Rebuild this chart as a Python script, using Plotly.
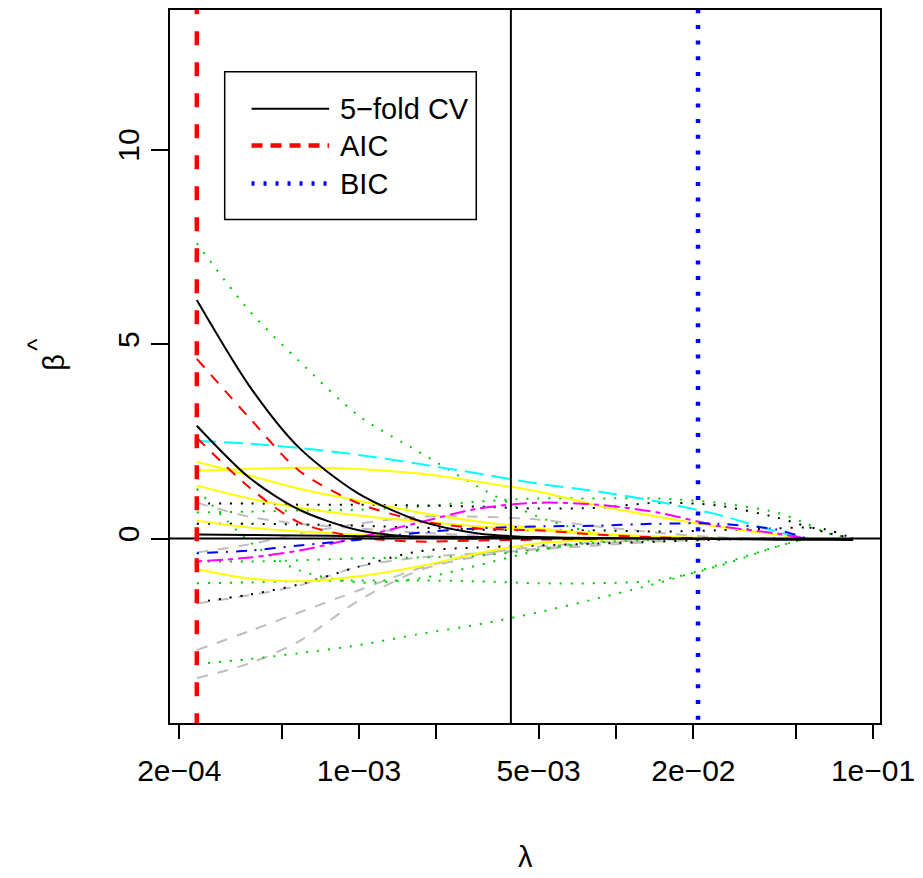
import plotly.graph_objects as go

# ---------------- data ----------------
lam = [0.000234, 0.000375, 0.000586, 0.001, 0.00171, 0.00291, 0.00497,
       0.00848, 0.0145, 0.0247, 0.0421, 0.0551, 0.0658, 0.0837]
N = None
bs1 = [6.13, 3.92, 2.33, 1.15, 0.46, 0.13, 0.03, 0.0, N, N, N, N, N, N]
bs2 = [2.90, 1.56, 0.74, 0.21, 0.03, 0.0, N, N, N, N, N, N, N, N]
bs3 = [0.10, 0.09, 0.08, 0.06, 0.05, 0.04, 0.03, 0.01, 0.0, -0.01, -0.03, -0.03, -0.03, -0.04]
rd1 = [4.62, 3.10, 1.74, 0.90, 0.46, 0.26, 0.21, 0.10, 0.03, 0.0, N, N, N, N]
rd2 = [2.59, 1.31, 0.41, 0.03, -0.08, -0.05, -0.03, 0.0, N, N, N, N, N, N]
gr1 = [7.59, 5.85, 4.56, 3.15, 2.23, 1.33, 0.56, 0.13, 0.0, N, N, N, N, N]
cy1 = [2.51, 2.44, 2.33, 2.15, 1.92, 1.67, 1.41, 1.21, 0.95, 0.62, 0.18, 0.0, N, N]
ye1 = [1.74, 1.79, 1.82, 1.79, 1.67, 1.46, 1.21, 0.85, 0.56, 0.31, 0.10, 0.0, N, N]
ye2 = [1.97, 1.62, 1.28, 0.97, 0.67, 0.44, 0.26, 0.13, 0.05, 0.0, N, N, N, N]
ye3 = [1.36, 1.03, 0.79, 0.59, 0.44, 0.31, 0.21, 0.10, 0.03, 0.0, N, N, N, N]
ye4 = [0.46, 0.28, 0.18, 0.10, 0.05, 0.03, 0.0, N, N, N, N, N, N, N]
ye5 = [-0.79, -1.03, -1.10, -0.97, -0.72, -0.38, -0.13, -0.03, 0.0, N, N, N, N, N]
gy1 = [-3.59, -3.21, -2.64, -1.59, -0.82, -0.46, -0.26, -0.13, -0.05, 0.0, N, N, N, N]
gy2 = [-2.87, -2.38, -1.90, -1.33, -0.77, -0.41, -0.21, -0.10, -0.03, 0.0, N, N, N, N]
gy3 = [-1.67, -1.46, -1.21, -0.72, -0.49, -0.38, -0.28, -0.18, -0.08, -0.03, 0.0, N, N, N]
gy4 = [-0.36, -0.15, 0.13, 0.38, 0.56, 0.56, 0.49, 0.31, 0.15, 0.03, 0.0, N, N, N]
gy5 = [0.92, 0.56, 0.38, 0.26, 0.15, 0.08, 0.03, 0.0, N, N, N, N, N, N]
bd1 = [-1.64, -1.44, -1.18, -0.72, -0.33, -0.23, -0.18, -0.13, -0.08, -0.03, 0.0, N, N, N]
bd2 = [0.90, 0.90, 0.87, 0.87, 0.85, 0.82, 0.77, 0.79, 0.92, 0.85, 0.54, 0.31, 0.15, 0.0]
bd3 = [0.38, 0.38, 0.36, 0.33, 0.28, 0.23, 0.21, 0.21, 0.18, 0.21, 0.26, 0.28, 0.23, 0.0]
gr2 = [-1.15, -1.13, -1.10, -1.08, -1.08, -1.10, -1.15, -1.15, -1.08, -0.72, -0.21, 0.0, N, N]
gr3 = [-3.23, -3.10, -2.95, -2.74, -2.46, -2.21, -1.90, -1.54, -1.15, -0.69, -0.21, 0.0, N, N]
gr4 = [-0.59, -0.59, -0.56, -0.51, -0.49, -0.44, -0.28, -0.10, -0.03, 0.0, N, N, N, N]
gr5 = [1.28, -0.08, -0.82, -1.13, -1.03, -0.69, -0.31, -0.05, 0.0, N, N, N, N, N]
gr6 = [0.67, 0.69, 0.72, 0.74, 0.82, 0.95, 1.03, 1.03, 1.03, 0.92, 0.67, 0.38, 0.15, 0.0]
bl1 = [-0.38, -0.31, -0.18, -0.03, 0.15, 0.26, 0.31, 0.33, 0.38, 0.38, 0.23, 0.0, N, N]
mg1 = [-0.59, -0.49, -0.31, 0.03, 0.41, 0.77, 0.92, 0.87, 0.67, 0.33, 0.13, 0.0, N, N]

lam_aic = 0.000234
lam_cv = 0.0039
lam_bic = 0.02085

x_tickvals = [2e-4, 5e-4, 1e-3, 2e-3, 5e-3, 1e-2, 2e-2, 5e-2, 1e-1]
x_ticktext = ["2e\u221204", "", "1e\u221203", "", "5e\u221203", "", "2e\u221202", "", "1e\u221201"]
y_tickvals = [0, 5, 10]
legend_labels = ["5\u2212fold CV", "AIC", "BIC"]

# ---------------- styles ----------------
BLACK, RED, GREEN, BLUE = "#000000", "#FF0000", "#00CD00", "#0000FF"
CYAN, MAGENTA, YELLOW, GRAY = "#00FFFF", "#FF00FF", "#FFFF00", "#BEBEBE"
SOLID = "solid"
DASHED = "11px,10px"
DOTTED = "2px,9px"
DOTDASH = "2px,8px,11px,8px"
LONGDASH = "19px,8px"
TWODASH = "5px,5px,16px,5px"

series = [
    (gy1, GRAY, DASHED), (gy2, GRAY, DASHED), (gy3, GRAY, DASHED),
    (gy4, GRAY, DASHED), (gy5, GRAY, DASHED),
    (gr3, GREEN, DOTTED), (gr2, GREEN, DOTTED), (gr4, GREEN, DOTTED),
    (gr5, GREEN, DOTTED), (gr6, GREEN, DOTTED), (gr1, GREEN, DOTTED),
    (bd1, BLACK, DOTTED), (bd2, BLACK, DOTTED), (bd3, BLACK, DOTTED),
    (ye1, YELLOW, SOLID), (ye2, YELLOW, SOLID), (ye3, YELLOW, SOLID),
    (ye4, YELLOW, SOLID), (ye5, YELLOW, SOLID),
    (cy1, CYAN, LONGDASH), (mg1, MAGENTA, TWODASH), (bl1, BLUE, DOTDASH),
    (rd1, RED, DASHED), (rd2, RED, DASHED),
    (bs1, BLACK, SOLID), (bs2, BLACK, SOLID), (bs3, BLACK, SOLID),
]

fig = go.Figure()
for vals, col, dash in series:
    fig.add_trace(go.Scatter(
        x=lam, y=vals, mode="lines", showlegend=False, hoverinfo="skip",
        line=dict(color=col, dash=dash, width=2, shape="spline", smoothing=0.8),
    ))

# reference lines
fig.add_trace(go.Scatter(x=[1e-5, 1.0], y=[0, 0], mode="lines", showlegend=False,
                         hoverinfo="skip", line=dict(color=BLACK, width=2)))
fig.add_trace(go.Scatter(x=[lam_cv, lam_cv], y=[-20, 30], mode="lines", showlegend=False,
                         hoverinfo="skip", line=dict(color=BLACK, width=2)))
fig.add_trace(go.Scatter(x=[lam_aic, lam_aic], y=[-20, 30], mode="lines", showlegend=False,
                         hoverinfo="skip", line=dict(color=RED, width=4.5, dash="14px,17px")))
fig.add_trace(go.Scatter(x=[lam_bic, lam_bic], y=[-20, 30], mode="lines", showlegend=False,
                         hoverinfo="skip", line=dict(color=BLUE, width=4.5, dash="4px,11.7px")))

FONT = "Liberation Sans, Arial, Helvetica, sans-serif"

# ---------------- legend (drawn) ----------------
W, H = 923, 878
L, R, T, B = 170, 39, 8, 155
pw, ph = W - L - R, H - T - B


def px(xp):
    return (xp - L) / pw


def py(yp):
    return (H - B - yp) / ph


shapes = [dict(type="rect", xref="paper", yref="paper",
               x0=px(225), x1=px(478), y0=py(218), y1=py(70),
               line=dict(color=BLACK, width=1.5), fillcolor="white", layer="above")]
leg_styles = [(BLACK, "solid", 2), (RED, "11px,8px", 4.5), (BLUE, "3px,9px", 4.5)]
leg_y = [107, 144, 182]
annotations = []
for (col, dash, w), yy, lab in zip(leg_styles, leg_y, legend_labels):
    shapes.append(dict(type="line", xref="paper", yref="paper",
                       x0=px(252), x1=px(330), y0=py(yy), y1=py(yy),
                       line=dict(color=col, width=w, dash=dash), layer="above"))
    annotations.append(dict(xref="paper", yref="paper", x=px(339), y=py(yy),
                            text=lab, showarrow=False, xanchor="left", yanchor="middle",
                            font=dict(size=29, color=BLACK, family=FONT)))

annotations.append(dict(xref="paper", yref="paper", x=px(527), y=py(857),
                        text="\u03bb", showarrow=False, xanchor="center", yanchor="middle",
                        font=dict(size=29, color=BLACK, family=FONT)))
annotations.append(dict(xref="paper", yref="paper", x=px(53), y=py(361),
                        text="\u03b2", showarrow=False, textangle=-90,
                        xanchor="center", yanchor="middle",
                        font=dict(size=29, color=BLACK, family=FONT)))
annotations.append(dict(xref="paper", yref="paper", x=px(36), y=py(343),
                        text="^", showarrow=False, textangle=-90,
                        xanchor="center", yanchor="middle",
                        font=dict(size=26, color=BLACK, family=FONT)))

fig.update_layout(
    width=W, height=H,
    margin=dict(l=L, r=R, t=T, b=B, pad=0),
    paper_bgcolor="white", plot_bgcolor="white",
    shapes=shapes, annotations=annotations,
    font=dict(family=FONT, color=BLACK),
    xaxis=dict(type="log", range=[-3.735, -0.973], tickvals=x_tickvals, ticktext=x_ticktext,
               ticks="outside", ticklen=14, tickwidth=1.5, tickcolor=BLACK,
               showline=True, mirror=True, linecolor=BLACK, linewidth=2,
               showgrid=False, zeroline=False, tickfont=dict(size=30, family=FONT),
               ticklabelstandoff=6),
    yaxis=dict(range=[-4.744, 13.59], tickvals=y_tickvals, ticks="outside", ticklen=17,
               tickwidth=1.5, tickcolor=BLACK, tickangle=-90,
               showline=True, mirror=True, linecolor=BLACK, linewidth=2,
               showgrid=False, zeroline=False, tickfont=dict(size=30, family=FONT),
               ticklabelstandoff=0),
)

fig.write_html("out.html", config={"displayModeBar": False},
               post_script="document.body.style.margin='0';")
